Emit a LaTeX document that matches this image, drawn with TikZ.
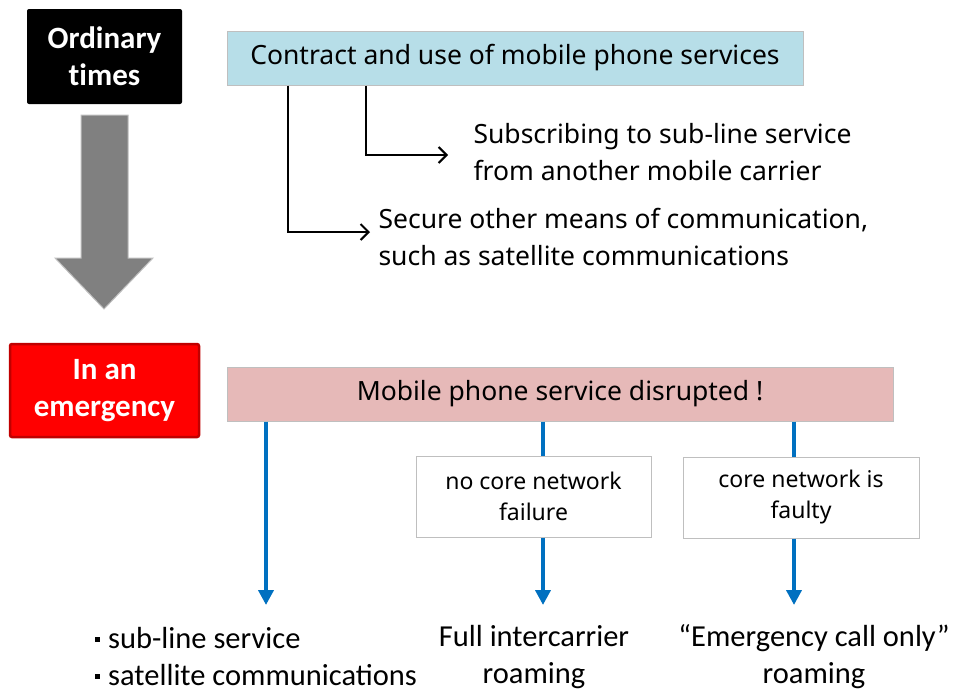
\documentclass[tikz,border=0pt]{standalone}
\usepackage{fontspec}
\setmainfont{Carlito}
\newfontfamily\gothic{Noto Sans}
\usetikzlibrary{arrows.meta}

\definecolor{boxblue}{HTML}{B7DEE8}
\definecolor{boxpink}{HTML}{E6B9B8}
\definecolor{darkred}{HTML}{C00000}
\definecolor{arrowblue}{HTML}{0070C0}
\definecolor{framegray}{HTML}{BFBFBF}

\tikzset{>=latex,
  phase/.style={rounded corners=2pt, minimum width=155pt, minimum height=95pt,
    align=center, text=white, font=\fontsize{31}{37}\selectfont\bfseries},
  banner/.style={draw=framegray, line width=1pt, minimum height=54pt,
    font=\gothic\fontsize{26.5}{30}\selectfont},
  case/.style={draw=framegray, fill=white, line width=1pt, minimum width=235pt,
    minimum height=81pt, align=center, font=\gothic\fontsize{23}{31}\selectfont},
  option/.style={align=left, anchor=west, font=\gothic\fontsize{26.5}{37}\selectfont},
  result/.style={align=center, inner sep=0pt, font=\fontsize{30.5}{37}\selectfont},
  conn/.style={line width=2pt, -{Straight Barb[length=8pt,width=16pt,line width=2pt]}},
  flow/.style={arrowblue, line width=4pt},
  flowtip/.style={flow, -{Triangle[length=15pt,width=15pt]}}
}

\newcommand{\sqbullet}{\raisebox{7pt}{\rule{5pt}{5pt}}\hspace{8pt}}

\begin{document}
\begin{tikzpicture}[x=1pt,y=-1pt]
\useasboundingbox (0,0) rectangle (958,694);

% Ordinary times
\node[phase, fill=black] (ordinary) at (104.5,56.5) {Ordinary\\t\kern0pt imes};

\filldraw[fill=gray, draw=framegray, line width=1pt]
  (81,115) -- (128,115) -- (128,258) -- (153,258) -- (104,309)
  -- (55,258) -- (81,258) -- cycle;

\node[banner, fill=boxblue, minimum width=576pt] (contract) at (515,58)
  {Contract and use of mobile phone services};

\node[option] (sub) at (470,152) {Subscribing to sub-line service\\from another mobile carrier};
\coordinate (subin) at (448,155);
\draw[conn] (contract.south -| 366,0) |- (subin);

\node[option] (secure) at (375,237) {Secure other means of communication,\\such as satellite communications};
\coordinate (securein) at (370,232);
\draw[conn] (contract.south -| 288,0) |- (securein);

% In an emergency
\node[phase, fill=red, draw=darkred, line width=2.5pt, minimum width=189pt,
  minimum height=93pt] (emergency) at (104.5,390.5) {In an\\emergency};

\node[banner, fill=boxpink, minimum width=666pt] (disrupted) at (560,394)
  {Mobile phone service disrupted !};

\node[case] (nofail) at (533.5,496.5) {no core network\\failure};
\node[case, minimum width=236pt] (faulty) at (801,497.5) {core network is\\faulty};

\coordinate (endsub) at (266,605);
\coordinate (endfull) at (543,605);
\coordinate (endcall) at (794,605);

\draw[flowtip] (disrupted.south -| endsub) -- (endsub);
\draw[flow] (disrupted.south -| endfull) -- (nofail.north -| endfull);
\draw[flowtip] (nofail.south -| endfull) -- (endfull);
\draw[flow] (disrupted.south -| endcall) -- (faulty.north -| endcall);
\draw[flowtip] (faulty.south -| endcall) -- (endcall);

\node[result, align=left, anchor=west] (means) at (95,657)
  {\sqbullet sub-line service\\ \sqbullet satellite communications};
\node[result] (full) at (534,657) {Full intercarrier\\roaming};
\node[result] (callonly) at (814,657) {“Emergency call only”\\roaming};

\end{tikzpicture}
\end{document}
